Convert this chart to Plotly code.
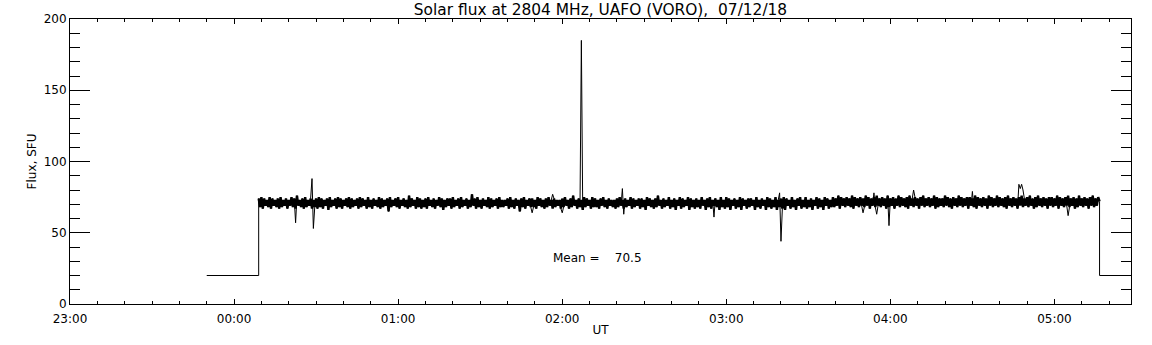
import pandas as pd
import plotly.graph_objects as go

# ---- data ----
title_text = "Solar flux at 2804 MHz, UAFO (VORO),  07/12/18"

baseline_value = 20
baseline_start = "2018-07-11 23:50:00"
series_start = "2018-07-12 00:09:00"   # flux samples every 30 s from here
axis_start = "2018-07-11 23:00:00"
axis_end = "2018-07-12 05:28:00"

# flux samples (SFU), one every 30 s, from 00:09
flux = [
    74,68,75,67,74,69,73,68,75,67,74,69,73,68,74,67,75,68,73,69,
    74,67,73,69,75,68,74,67,76,69,73,68,74,67,75,68,73,69,74,67,
    73,68,74,67,75,68,74,67,73,69,74,66,75,68,73,69,74,67,75,68,
    74,67,73,69,74,68,75,67,74,68,73,69,74,67,75,68,74,69,73,67,
    75,68,73,67,74,69,73,68,75,67,74,68,73,69,74,65,75,68,73,69,
    74,68,75,67,73,69,74,68,73,67,76,68,74,69,73,67,75,68,74,67,
    73,68,74,67,75,69,73,68,74,67,73,69,75,68,74,66,73,68,74,69,
    74,67,75,68,73,69,74,67,75,68,73,69,74,67,73,68,77,69,74,67,
    75,68,73,67,74,69,73,68,75,67,74,68,73,69,74,67,75,68,73,68,
    73,69,74,67,75,68,73,67,74,69,73,65,74,68,75,67,73,69,74,68,
    74,68,73,67,75,69,74,68,73,67,74,68,75,69,73,67,74,68,73,69,
    73,67,74,68,75,69,73,67,74,68,76,69,73,67,74,68,73,66,75,68,
    74,69,73,67,75,68,74,68,73,67,74,69,75,68,73,67,74,69,73,68,
    73,67,74,68,75,69,73,67,74,68,73,69,75,67,74,68,73,69,74,67,
    74,68,73,66,75,69,74,68,73,67,74,68,76,69,73,67,74,68,73,69,
    75,67,73,68,74,66,73,69,75,67,74,68,73,69,75,66,74,68,73,67,
    74,68,73,67,75,69,73,66,74,68,75,67,73,69,74,68,73,66,75,68,
    73,67,75,68,74,66,73,69,74,67,73,68,75,66,74,69,73,67,74,68,
    74,69,73,66,75,68,73,67,74,69,73,66,75,68,74,67,73,68,75,66,
    73,68,74,67,75,66,74,69,73,67,75,68,73,66,74,69,75,67,73,68,
    75,67,73,68,74,66,73,69,75,67,74,68,73,66,75,69,74,67,73,68,
    75,68,74,69,76,67,75,69,74,68,75,69,74,68,76,67,75,69,74,68,
    75,69,74,68,76,69,75,67,74,69,75,68,76,69,74,68,75,69,74,67,
    76,68,74,69,75,67,74,69,76,68,75,69,74,68,75,67,76,69,74,68,
    75,69,74,67,75,69,76,68,74,69,75,68,74,69,76,67,75,68,74,69,
    74,68,76,69,75,68,74,67,75,69,74,68,76,69,75,68,74,69,75,67,
    75,69,74,68,76,67,75,69,74,68,75,69,74,67,76,69,75,68,74,69,
    76,68,75,69,74,68,75,67,76,69,74,68,75,69,74,67,75,69,76,68,
    74,69,75,68,76,69,74,67,75,68,76,69,74,68,75,69,74,67,75,69,
    75,68,74,69,76,67,75,69,74,68,75,69,76,68,74,69,75,67,74,68,
    76,69,74,68,75,69,74,67,75,69,76,68,74,69,75,72,
]

# isolated spikes: sample index (30 s steps from 00:09) and value (SFU)
spike_index = [27, 39, 40, 200, 215, 222, 236, 266, 267, 333, 381, 382,
               442, 450, 452, 461, 479, 522, 556, 557, 558, 559, 592]
spike_value = [57, 88, 53, 64, 77, 64, 185, 81, 63, 61, 78, 44,
               64, 78, 63, 55, 80, 79, 84, 81, 84, 80, 62]

mean_label = "Mean =\u00a0\u00a0\u00a0\u00a070.5"
mean_pos_time = "2018-07-12 01:56:00"
mean_pos_value = 32

# ---- build series ----
times = pd.date_range(series_start, periods=len(flux), freq="30s")
values = list(flux)
for i, v in zip(spike_index, spike_value):
    values[i] = v

x_full = [pd.Timestamp(baseline_start), pd.Timestamp(series_start)] + list(times) + \
         [times[-1], pd.Timestamp("2018-07-12 05:40:00")]
y_full = [baseline_value, baseline_value] + values + [baseline_value, baseline_value]

font_family = "DejaVu Sans"

fig = go.Figure()
# dense noise core (heavier so the band reads as solid, as in the reference)
fig.add_trace(go.Scatter(x=list(times), y=flux, mode="lines",
                         line=dict(color="black", width=2.4, simplify=False),
                         hoverinfo="skip"))
# full record with spikes, baseline and steps
fig.add_trace(go.Scatter(x=x_full, y=y_full, mode="lines",
                         line=dict(color="black", width=1, simplify=False),
                         hoverinfo="skip"))

fig.update_layout(
    width=1152, height=345,
    margin=dict(l=70, r=21, t=19, b=41),
    paper_bgcolor="white", plot_bgcolor="white",
    showlegend=False,
    font=dict(family=font_family, size=12, color="black"),
    title=dict(text=title_text, x=0.5, xanchor="center", xref="paper",
               y=1 - 9.5 / 345, yanchor="middle", yref="container",
               font=dict(size=15.4, color="black")),
    xaxis=dict(
        type="date", automargin=False,
        range=[axis_start, axis_end],
        tick0=axis_start, dtick=3600000, tickformat="%H:%M",
        ticks="inside", ticklen=5, tickcolor="black", tickwidth=1,
        minor=dict(dtick=600000, ticks="inside", ticklen=3, tickcolor="black", tickwidth=1),
        showline=True, linecolor="black", linewidth=1, mirror="ticks",
        showgrid=False, zeroline=False,
        ticklabelstandoff=4,
        title=dict(text="UT", standoff=0, font=dict(size=12)),
        tickfont=dict(size=12),
    ),
    yaxis=dict(
        automargin=False,
        range=[0, 200], tick0=0, dtick=50,
        ticks="inside", ticklen=20, tickcolor="black", tickwidth=1,
        minor=dict(dtick=10, ticks="inside", ticklen=10, tickcolor="black", tickwidth=1),
        showline=True, linecolor="black", linewidth=1, mirror="ticks",
        showgrid=False, zeroline=False,
        title=dict(text="Flux, SFU", standoff=4, font=dict(size=12)),
        tickfont=dict(size=12),
    ),
    annotations=[dict(x=mean_pos_time, y=mean_pos_value, xref="x", yref="y",
                      text=mean_label, showarrow=False, xanchor="left", yanchor="middle",
                      font=dict(size=12, color="black"))],
)

fig.write_html("out.html", config={"displayModeBar": False},
               post_script="document.body.style.margin='0';")
